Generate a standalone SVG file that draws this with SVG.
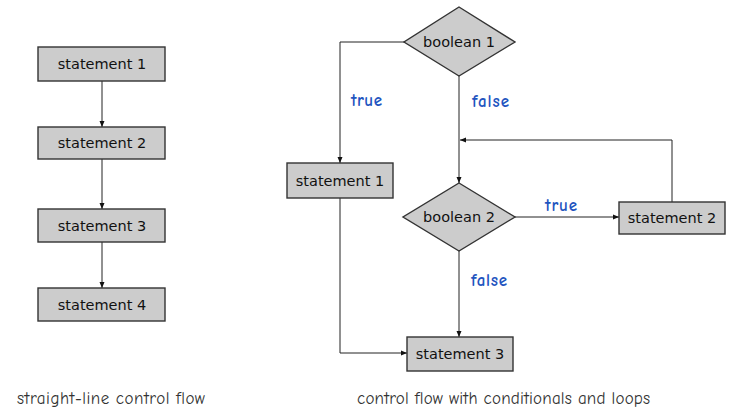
<svg xmlns="http://www.w3.org/2000/svg" width="731" height="410" viewBox="0 0 731 410">
  <style>
    .box { fill: #cccccc; stroke: #333333; stroke-width: 1.4; }
    .lbl { font-family: "DejaVu Sans", "Liberation Sans", sans-serif; font-size: 14.5px; fill: #111111; text-anchor: middle; dominant-baseline: central; }
    .edge { fill: none; stroke: #222222; stroke-width: 1; marker-end: url(#arrow); }
    .cond { font-family: "Comic Neue", "DejaVu Sans", sans-serif; font-size: 17px; font-weight: bold; fill: #1f55c0; }
    .caption { font-family: "Comic Neue", "DejaVu Sans", sans-serif; font-size: 17px; fill: #333333; }
  </style>
  <defs>
    <marker id="arrow" viewBox="0 0 6 6" refX="6" refY="3" markerWidth="6" markerHeight="6" markerUnits="userSpaceOnUse" orient="auto">
      <path d="M0,0.5 L6,3 L0,5.5 Z" fill="#111111"/>
    </marker>
  </defs>

  <!-- connectors -->
  <g id="connectors">
    <path class="edge" d="M102,81 V127"/>
    <path class="edge" d="M102,159 V209"/>
    <path class="edge" d="M102,242 V288"/>
    <path class="edge" d="M404,42 H340 V163"/>
    <path class="edge" d="M459,76 V183"/>
    <path class="edge" d="M515,217 H619"/>
    <path class="edge" d="M672,202 V140 H460"/>
    <path class="edge" d="M459,251 V337"/>
    <path class="edge" d="M340,198 V353 H407"/>
    <text class="cond" x="351" y="106" textLength="31">true</text>
    <text class="cond" x="472" y="107" textLength="37">false</text>
    <text class="cond" x="545" y="211" textLength="32">true</text>
    <text class="cond" x="471" y="286" textLength="36">false</text>
  </g>

  <!-- straight-line flow -->
  <g id="left-s1"><rect class="box" x="38" y="47" width="127" height="34"/><text class="lbl" x="102" y="64">statement 1</text></g>
  <g id="left-s2"><rect class="box" x="38" y="127" width="127" height="32"/><text class="lbl" x="102" y="143">statement 2</text></g>
  <g id="left-s3"><rect class="box" x="38" y="209" width="127" height="33"/><text class="lbl" x="102" y="226">statement 3</text></g>
  <g id="left-s4"><rect class="box" x="38" y="288" width="127" height="33"/><text class="lbl" x="102" y="305">statement 4</text></g>

  <!-- conditionals and loops -->
  <g id="boolean1"><polygon class="box" points="459,7 515,42 459,76 404,42"/><text class="lbl" x="459" y="42">boolean 1</text></g>
  <g id="right-s1"><rect class="box" x="287" y="163" width="106" height="35"/><text class="lbl" x="340" y="181">statement 1</text></g>
  <g id="boolean2"><polygon class="box" points="459,183 515,217 459,251 403,217"/><text class="lbl" x="459" y="217">boolean 2</text></g>
  <g id="right-s2"><rect class="box" x="619" y="202" width="106" height="32"/><text class="lbl" x="672" y="218">statement 2</text></g>
  <g id="right-s3"><rect class="box" x="407" y="337" width="106" height="34"/><text class="lbl" x="460" y="354">statement 3</text></g>

  <text class="caption" x="17" y="404" textLength="188">straight-line control flow</text>
  <text class="caption" x="357" y="404" textLength="293">control flow with conditionals and loops</text>
</svg>
